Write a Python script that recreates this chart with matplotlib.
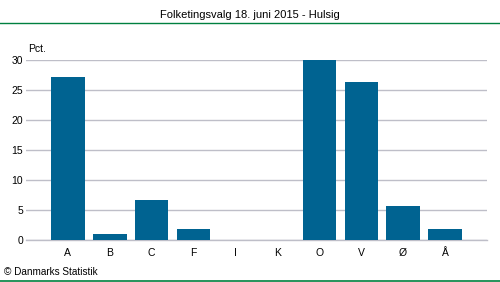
import matplotlib
matplotlib.use('Agg')
import matplotlib.pyplot as plt

partier = ['A', 'B', 'C', 'F', 'I', 'K', 'O', 'V', 'Ø', 'Å']
pct = [27.1, 1.0, 6.6, 1.8, 0.0, 0.0, 29.9, 26.3, 5.6, 1.8]
yticks = [0, 5, 10, 15, 20, 25, 30]

plt.rcParams['font.family'] = ['Liberation Sans', 'DejaVu Sans']

fig = plt.figure(figsize=(5, 2.82), dpi=100)
ax = fig.add_axes([0.052, 0.1507, 0.922, 0.638])

x = list(range(len(partier)))
ax.bar(x, pct, width=0.8, color='#006391', zorder=3)

ax.set_xlim(-1, len(partier))
ax.set_ylim(0, 30)
ax.set_yticks(yticks)
ax.set_xticks(x)
ax.set_xticklabels(partier)
ax.tick_params(length=0, labelsize=7.5, colors='#000000')
ax.tick_params(axis='y', pad=2)
ax.tick_params(axis='x', pad=6)
ax.grid(axis='y', color='#bebec8', linewidth=1, zorder=0)
for s in ['top', 'right', 'left']:
    ax.spines[s].set_visible(False)
ax.spines['bottom'].set_color('#bebec8')
ax.spines['bottom'].set_linewidth(1)

ax.text(0.004, 1.03, 'Pct.', transform=ax.transAxes, fontsize=7.5, va='bottom', ha='left')

fig.text(0.5, 1 - 15 / 282, 'Folketingsvalg 18. juni 2015 - Hulsig', ha='center', va='center', fontsize=8)
fig.add_artist(plt.Line2D([0, 1], [1 - 22.5 / 282, 1 - 22.5 / 282], color='#008040', linewidth=1))
fig.add_artist(plt.Line2D([0, 1], [1 - 280.8 / 282, 1 - 280.8 / 282], color='#008040', linewidth=1.2))
fig.text(4 / 500, 1 - 272 / 282, '© Danmarks Statistik', ha='left', va='center', fontsize=7.2)

fig.savefig('out.png', dpi=100)
